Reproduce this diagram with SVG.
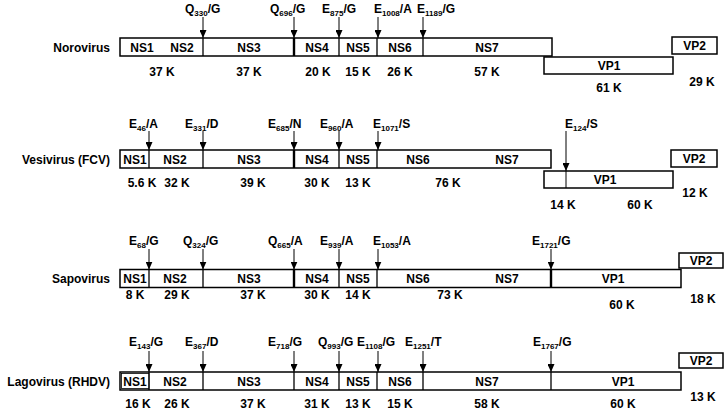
<svg xmlns="http://www.w3.org/2000/svg" width="726" height="413" viewBox="0 0 726 413">
<style>
  text { font-family: "Liberation Sans", Arial, sans-serif; font-weight: bold; font-size: 12px; fill: #000; }
  .mid { text-anchor: middle; }
  .end { text-anchor: end; }
  .sub { font-size: 8px; }
  .box { fill: #fff; stroke: #000; stroke-width: 1.5; }
  .div { stroke: #000; stroke-width: 1.3; }
  .thick { stroke: #000; stroke-width: 2.4; }
  .arr { stroke: #000; stroke-width: 1; fill: none; marker-end: url(#hd); }
  .ln { stroke: #000; stroke-width: 1; }
</style>
<defs>
  <marker id="hd" markerUnits="userSpaceOnUse" markerWidth="8" markerHeight="7" refX="8" refY="3.5" orient="auto" viewBox="0 0 8 7">
    <path d="M0,0 L8,3.5 L0,7 Z" fill="#000"/>
  </marker>
</defs>

<!-- Norovirus -->
<g id="norovirus">
  <text class="end" x="110" y="51.5">Norovirus</text>
  <g id="noro-polyprotein">
    <rect class="box" x="120" y="38" width="432" height="18"/>
    <line class="div" x1="203" y1="38" x2="203" y2="56"/>
    <line class="thick" x1="294" y1="38" x2="294" y2="56"/>
    <line class="div" x1="339" y1="38" x2="339" y2="56"/>
    <line class="div" x1="377" y1="38" x2="377" y2="56"/>
    <line class="div" x1="423" y1="38" x2="423" y2="56"/>
    <text class="mid" x="142" y="51.5">NS1</text>
    <text class="mid" x="182" y="51.5">NS2</text>
    <text class="mid" x="249" y="51.5">NS3</text>
    <text class="mid" x="317" y="51.5">NS4</text>
    <text class="mid" x="358" y="51.5">NS5</text>
    <text class="mid" x="400" y="51.5">NS6</text>
    <text class="mid" x="487" y="51.5">NS7</text>
  </g>
  <g id="noro-vp1">
    <rect class="box" x="544" y="57" width="129" height="17"/>
    <text class="mid" x="609" y="70">VP1</text>
  </g>
  <g id="noro-vp2">
    <rect class="box" x="672" y="37" width="45" height="17"/>
    <text class="mid" x="694.5" y="50">VP2</text>
  </g>
  <text class="mid" x="162" y="76">37 K</text>
  <text class="mid" x="249" y="76">37 K</text>
  <text class="mid" x="318" y="76">20 K</text>
  <text class="mid" x="358" y="76">15 K</text>
  <text class="mid" x="400" y="76">26 K</text>
  <text class="mid" x="487" y="76">57 K</text>
  <text class="mid" x="609" y="92">61 K</text>
  <text class="mid" x="702" y="86">29 K</text>
  <text x="185" y="12.5">Q<tspan class="sub" dy="3">330</tspan><tspan dy="-3">/G</tspan></text>
  <text x="270" y="12.5">Q<tspan class="sub" dy="3">696</tspan><tspan dy="-3">/G</tspan></text>
  <text x="322" y="12.5">E<tspan class="sub" dy="3">875</tspan><tspan dy="-3">/G</tspan></text>
  <text x="374" y="12.5">E<tspan class="sub" dy="3">1008</tspan><tspan dy="-3">/A</tspan></text>
  <text x="417" y="12.5">E<tspan class="sub" dy="3">1189</tspan><tspan dy="-3">/G</tspan></text>
</g>

<!-- Vesivirus -->
<g id="vesivirus">
  <text class="end" x="110" y="164">Vesivirus (FCV)</text>
  <g id="vesi-polyprotein">
    <rect class="box" x="120" y="150" width="431" height="18"/>
    <line class="div" x1="149" y1="150" x2="149" y2="168"/>
    <line class="div" x1="203" y1="150" x2="203" y2="168"/>
    <line class="thick" x1="294" y1="150" x2="294" y2="168"/>
    <line class="div" x1="339" y1="150" x2="339" y2="168"/>
    <line class="div" x1="377" y1="150" x2="377" y2="168"/>
    <text class="mid" x="135" y="164">NS1</text>
    <text class="mid" x="175" y="164">NS2</text>
    <text class="mid" x="249" y="164">NS3</text>
    <text class="mid" x="317" y="164">NS4</text>
    <text class="mid" x="358" y="164">NS5</text>
    <text class="mid" x="418" y="164">NS6</text>
    <text class="mid" x="507" y="164">NS7</text>
  </g>
  <g id="vesi-vp1">
    <rect class="box" x="544" y="171" width="129" height="17"/>
    <text class="mid" x="605" y="184">VP1</text>
  </g>
  <g id="vesi-vp2">
    <rect class="box" x="671" y="150" width="46" height="17"/>
    <text class="mid" x="694" y="163">VP2</text>
  </g>
  <text class="mid" x="142" y="187">5.6 K</text>
  <text class="mid" x="177" y="187">32 K</text>
  <text class="mid" x="253" y="187">39 K</text>
  <text class="mid" x="317" y="187">30 K</text>
  <text class="mid" x="358" y="187">13 K</text>
  <text class="mid" x="448" y="187">76 K</text>
  <text class="mid" x="563" y="209">14 K</text>
  <text class="mid" x="640" y="209">60 K</text>
  <text class="mid" x="695" y="197">12 K</text>
  <text x="129" y="128">E<tspan class="sub" dy="3">46</tspan><tspan dy="-3">/A</tspan></text>
  <text x="185" y="128">E<tspan class="sub" dy="3">331</tspan><tspan dy="-3">/D</tspan></text>
  <text x="268" y="128">E<tspan class="sub" dy="3">685</tspan><tspan dy="-3">/N</tspan></text>
  <text x="320" y="128">E<tspan class="sub" dy="3">960</tspan><tspan dy="-3">/A</tspan></text>
  <text x="373" y="128">E<tspan class="sub" dy="3">1071</tspan><tspan dy="-3">/S</tspan></text>
  <text x="565" y="128">E<tspan class="sub" dy="3">124</tspan><tspan dy="-3">/S</tspan></text>
</g>

<!-- Sapovirus -->
<g id="sapovirus">
  <text class="end" x="110" y="283">Sapovirus</text>
  <g id="sapo-polyprotein">
    <rect class="box" x="120" y="269.5" width="561" height="18"/>
    <line class="div" x1="149" y1="269.5" x2="149" y2="287.5"/>
    <line class="div" x1="203" y1="269.5" x2="203" y2="287.5"/>
    <line class="thick" x1="294" y1="269.5" x2="294" y2="287.5"/>
    <line class="div" x1="339" y1="269.5" x2="339" y2="287.5"/>
    <line class="div" x1="377" y1="269.5" x2="377" y2="287.5"/>
    <line class="thick" x1="551" y1="269.5" x2="551" y2="287.5"/>
    <text class="mid" x="135" y="283">NS1</text>
    <text class="mid" x="175" y="283">NS2</text>
    <text class="mid" x="249" y="283">NS3</text>
    <text class="mid" x="317" y="283">NS4</text>
    <text class="mid" x="358" y="283">NS5</text>
    <text class="mid" x="418" y="283">NS6</text>
    <text class="mid" x="507" y="283">NS7</text>
    <text class="mid" x="613" y="283">VP1</text>
  </g>
  <g id="sapo-vp2">
    <rect class="box" x="679" y="253" width="44" height="15"/>
    <text class="mid" x="701" y="265">VP2</text>
  </g>
  <text class="mid" x="135" y="299">8 K</text>
  <text class="mid" x="177" y="299">29 K</text>
  <text class="mid" x="253" y="299">37 K</text>
  <text class="mid" x="317" y="299">30 K</text>
  <text class="mid" x="358" y="299">14 K</text>
  <text class="mid" x="450" y="299">73 K</text>
  <text class="mid" x="622" y="309">60 K</text>
  <text class="mid" x="703" y="303">18 K</text>
  <text x="129" y="245">E<tspan class="sub" dy="3">68</tspan><tspan dy="-3">/G</tspan></text>
  <text x="183" y="245">Q<tspan class="sub" dy="3">324</tspan><tspan dy="-3">/G</tspan></text>
  <text x="268" y="245">Q<tspan class="sub" dy="3">665</tspan><tspan dy="-3">/A</tspan></text>
  <text x="320" y="245">E<tspan class="sub" dy="3">939</tspan><tspan dy="-3">/A</tspan></text>
  <text x="373" y="245">E<tspan class="sub" dy="3">1053</tspan><tspan dy="-3">/A</tspan></text>
  <text x="532" y="245">E<tspan class="sub" dy="3">1721</tspan><tspan dy="-3">/G</tspan></text>
</g>

<!-- Lagovirus -->
<g id="lagovirus">
  <text class="end" x="110" y="385.5">Lagovirus (RHDV)</text>
  <g id="lago-polyprotein">
    <rect class="box" x="120" y="372" width="561" height="18"/>
    <rect x="121.5" y="373.5" width="27.5" height="15" fill="none" stroke="#000" stroke-width="0.8"/>
    <line class="div" x1="149" y1="372" x2="149" y2="390"/>
    <line class="div" x1="203" y1="372" x2="203" y2="390"/>
    <line class="div" x1="294" y1="372" x2="294" y2="390"/>
    <line class="div" x1="339" y1="372" x2="339" y2="390"/>
    <line class="div" x1="377" y1="372" x2="377" y2="390"/>
    <line class="div" x1="423" y1="372" x2="423" y2="390"/>
    <line class="div" x1="551" y1="372" x2="551" y2="390"/>
    <text class="mid" x="135" y="385.5">NS1</text>
    <text class="mid" x="175" y="385.5">NS2</text>
    <text class="mid" x="249" y="385.5">NS3</text>
    <text class="mid" x="317" y="385.5">NS4</text>
    <text class="mid" x="358" y="385.5">NS5</text>
    <text class="mid" x="400" y="385.5">NS6</text>
    <text class="mid" x="487" y="385.5">NS7</text>
    <text class="mid" x="623" y="385.5">VP1</text>
  </g>
  <g id="lago-vp2">
    <rect class="box" x="679" y="353" width="44" height="15"/>
    <text class="mid" x="701" y="365">VP2</text>
  </g>
  <text class="mid" x="138" y="408">16 K</text>
  <text class="mid" x="177" y="408">26 K</text>
  <text class="mid" x="253" y="408">37 K</text>
  <text class="mid" x="317" y="408">31 K</text>
  <text class="mid" x="358" y="408">13 K</text>
  <text class="mid" x="400" y="408">15 K</text>
  <text class="mid" x="487" y="408">58 K</text>
  <text class="mid" x="623" y="408">60 K</text>
  <text class="mid" x="703" y="401">13 K</text>
  <text x="129" y="346">E<tspan class="sub" dy="3">143</tspan><tspan dy="-3">/G</tspan></text>
  <text x="185" y="346">E<tspan class="sub" dy="3">367</tspan><tspan dy="-3">/D</tspan></text>
  <text x="268" y="346">E<tspan class="sub" dy="3">718</tspan><tspan dy="-3">/G</tspan></text>
  <text x="318" y="346">Q<tspan class="sub" dy="3">993</tspan><tspan dy="-3">/G</tspan></text>
  <text x="357" y="346">E<tspan class="sub" dy="3">1108</tspan><tspan dy="-3">/G</tspan></text>
  <text x="405" y="346">E<tspan class="sub" dy="3">1251</tspan><tspan dy="-3">/T</tspan></text>
  <text x="533" y="346">E<tspan class="sub" dy="3">1767</tspan><tspan dy="-3">/G</tspan></text>
</g>

<!-- Connectors: cleavage-site arrows -->
<g id="connectors">
  <line class="arr" x1="203" y1="17" x2="203" y2="38"/>
  <line class="arr" x1="294" y1="17" x2="294" y2="38"/>
  <line class="arr" x1="339" y1="17" x2="339" y2="38"/>
  <line class="arr" x1="378" y1="17" x2="378" y2="38"/>
  <line class="arr" x1="423" y1="17" x2="423" y2="38"/>

  <line class="arr" x1="149" y1="131" x2="149" y2="150"/>
  <line class="arr" x1="203" y1="131" x2="203" y2="150"/>
  <line class="arr" x1="294" y1="131" x2="294" y2="150"/>
  <line class="arr" x1="339" y1="131" x2="339" y2="150"/>
  <line class="arr" x1="378" y1="131" x2="378" y2="150"/>
  <line class="arr" x1="566" y1="131" x2="566" y2="171"/>
  <line class="ln" x1="566" y1="171" x2="566" y2="188"/>

  <line class="arr" x1="149" y1="249" x2="149" y2="269.5"/>
  <line class="arr" x1="203" y1="249" x2="203" y2="269.5"/>
  <line class="arr" x1="294" y1="249" x2="294" y2="269.5"/>
  <line class="arr" x1="339" y1="249" x2="339" y2="269.5"/>
  <line class="arr" x1="378" y1="249" x2="378" y2="269.5"/>
  <line class="arr" x1="551" y1="249" x2="551" y2="269.5"/>

  <line class="arr" x1="149" y1="351" x2="149" y2="372"/>
  <line class="arr" x1="203" y1="351" x2="203" y2="372"/>
  <line class="arr" x1="294" y1="351" x2="294" y2="372"/>
  <line class="arr" x1="339" y1="351" x2="339" y2="372"/>
  <line class="arr" x1="378" y1="351" x2="378" y2="372"/>
  <line class="arr" x1="423" y1="351" x2="423" y2="372"/>
  <line class="arr" x1="551" y1="351" x2="551" y2="372"/>
</g>
</svg>
